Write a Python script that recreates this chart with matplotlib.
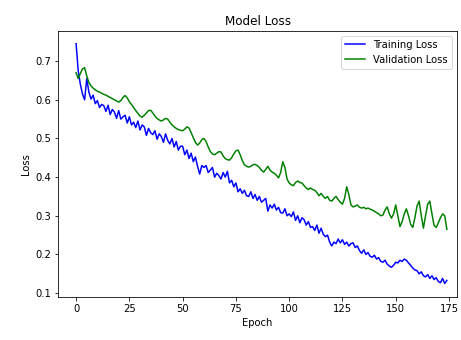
import numpy as np
import matplotlib
matplotlib.use("Agg")
import matplotlib.pyplot as plt

# values, one per epoch (0..174)
train_loss = [
    0.745, 0.675, 0.640, 0.615, 0.600, 0.655, 0.620, 0.602, 0.612, 0.590,
    0.598, 0.580, 0.588, 0.585, 0.570, 0.586, 0.562, 0.575, 0.568, 0.552,
    0.572, 0.550, 0.556, 0.560, 0.540, 0.556, 0.535, 0.542, 0.528, 0.545,
    0.522, 0.535, 0.530, 0.508, 0.526, 0.515, 0.510, 0.520, 0.498, 0.512,
    0.505, 0.490, 0.512, 0.495, 0.486, 0.500, 0.478, 0.492, 0.470, 0.480,
    0.480, 0.458, 0.470, 0.448, 0.462, 0.440, 0.452, 0.428, 0.408, 0.430,
    0.425, 0.430, 0.412, 0.418, 0.425, 0.400, 0.410, 0.404, 0.395, 0.412,
    0.400, 0.415, 0.385, 0.392, 0.375, 0.385, 0.362, 0.370, 0.358, 0.366,
    0.352, 0.350, 0.362, 0.345, 0.355, 0.340, 0.350, 0.335, 0.340, 0.345,
    0.312, 0.328, 0.320, 0.330, 0.315, 0.322, 0.308, 0.307, 0.318, 0.300,
    0.305, 0.298, 0.310, 0.288, 0.300, 0.282, 0.295, 0.290, 0.276, 0.285,
    0.270, 0.272, 0.262, 0.276, 0.255, 0.268, 0.252, 0.246, 0.250, 0.232,
    0.222, 0.232, 0.228, 0.240, 0.230, 0.238, 0.226, 0.232, 0.222, 0.228,
    0.230, 0.218, 0.222, 0.210, 0.203, 0.212, 0.200, 0.205, 0.195, 0.193,
    0.198, 0.188, 0.192, 0.182, 0.180, 0.185, 0.175, 0.170, 0.167, 0.172,
    0.180, 0.178, 0.185, 0.182, 0.188, 0.185, 0.178, 0.172, 0.165, 0.160,
    0.158, 0.150, 0.155, 0.145, 0.142, 0.148, 0.138, 0.145, 0.135, 0.140,
    0.130, 0.127, 0.138, 0.125, 0.133,
]

val_loss = [
    0.670, 0.655, 0.668, 0.680, 0.683, 0.662, 0.645, 0.636, 0.630, 0.626,
    0.622, 0.620, 0.617, 0.614, 0.612, 0.609, 0.606, 0.603, 0.600, 0.597,
    0.594, 0.598, 0.606, 0.611, 0.605, 0.595, 0.588, 0.580, 0.572, 0.565,
    0.558, 0.555, 0.560, 0.566, 0.572, 0.573, 0.566, 0.558, 0.552, 0.548,
    0.545, 0.548, 0.552, 0.550, 0.542, 0.535, 0.530, 0.526, 0.523, 0.521,
    0.520, 0.524, 0.530, 0.527, 0.515, 0.502, 0.490, 0.483, 0.488, 0.497,
    0.500, 0.492, 0.478, 0.466, 0.460, 0.458, 0.462, 0.466, 0.465, 0.455,
    0.448, 0.445, 0.444, 0.450, 0.460, 0.468, 0.470, 0.458, 0.443, 0.432,
    0.428, 0.426, 0.428, 0.432, 0.433, 0.430, 0.425, 0.418, 0.413, 0.420,
    0.428, 0.418, 0.413, 0.410, 0.405, 0.398, 0.412, 0.440, 0.425, 0.395,
    0.385, 0.380, 0.378, 0.386, 0.390, 0.386, 0.385, 0.378, 0.372, 0.368,
    0.372, 0.368, 0.366, 0.360, 0.352, 0.358, 0.350, 0.345, 0.350, 0.340,
    0.338, 0.345, 0.350, 0.342, 0.335, 0.330, 0.345, 0.375, 0.355, 0.328,
    0.323, 0.325, 0.328, 0.322, 0.320, 0.322, 0.318, 0.320, 0.317, 0.315,
    0.312, 0.308, 0.305, 0.300, 0.302, 0.315, 0.323, 0.305, 0.294, 0.305,
    0.328, 0.300, 0.272, 0.285, 0.305, 0.318, 0.300, 0.278, 0.270, 0.295,
    0.325, 0.338, 0.300, 0.268, 0.300, 0.330, 0.338, 0.305, 0.275, 0.270,
    0.282, 0.295, 0.305, 0.300, 0.265,
]

epochs = np.arange(len(train_loss))

fig = plt.figure(figsize=(461 / 72, 340 / 72), dpi=72)
ax = fig.add_axes([0.126, 0.1265, 0.8655, 0.7824])

ax.plot(epochs, train_loss, color='blue', lw=1.5, label='Training Loss')
ax.plot(epochs, val_loss, color='green', lw=1.5, label='Validation Loss')

ax.set_title('Model Loss')
ax.set_xlabel('Epoch')
ax.set_ylabel('Loss')
ax.set_xlim(-8.45, 178.8)
ax.set_ylim(0.090, 0.778)
ax.set_xticks([0, 25, 50, 75, 100, 125, 150, 175])
ax.set_yticks([0.1, 0.2, 0.3, 0.4, 0.5, 0.6, 0.7])
ax.legend(loc='upper right')

fig.savefig('out.png', dpi=72)
